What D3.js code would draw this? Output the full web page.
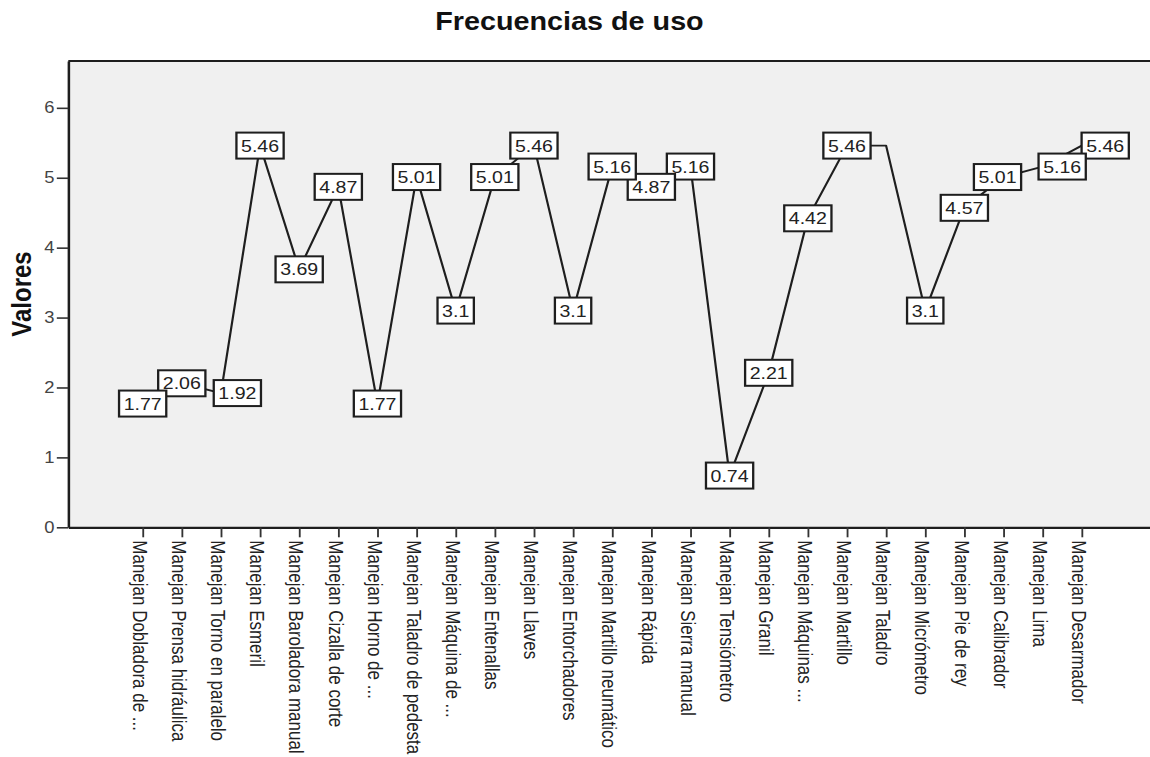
<!DOCTYPE html>
<html lang="es">
<head>
<meta charset="utf-8">
<title>Frecuencias de uso</title>
<script src="https://cdn.jsdelivr.net/npm/d3@7"></script>
<style>
  html, body { margin: 0; padding: 0; background: #ffffff; }
  svg { display: block; font-family: "Liberation Sans", Arial, sans-serif; }
</style>
</head>
<body>
<svg id="chart"></svg>
<script>
// Categories (tools) shown along the x axis
const categories = [
  "Manejan Dobladora de ...",
  "Manejan Prensa hidráulica",
  "Manejan Torno en paralelo",
  "Manejan Esmeril",
  "Manejan Baroladora manual",
  "Manejan Cizalla de corte",
  "Manejan Horno de ...",
  "Manejan Taladro de pedesta",
  "Manejan Máquina de ...",
  "Manejan Entenallas",
  "Manejan Llaves",
  "Manejan Entorchadores",
  "Manejan Martillo neumático",
  "Manejan Rápida",
  "Manejan Sierra manual",
  "Manejan Tensiómetro",
  "Manejan Granil",
  "Manejan Máquinas ...",
  "Manejan Martillo",
  "Manejan Taladro",
  "Manejan Micrómetro",
  "Manejan Pie de rey",
  "Manejan Calibrador",
  "Manejan Lima",
  "Manejan Desarmador"
];

// Usage frequency for each category
const values = [
  1.77, 2.06, 1.92, 5.46, 3.69, 4.87, 1.77, 5.01, 3.1, 5.01,
  5.46, 3.1, 5.16, 4.87, 5.16, 0.74, 2.21, 4.42, 5.46, 5.46,
  3.1, 4.57, 5.01, 5.16, 5.46
];

// Categories whose value label is left off (it would collide with a neighbour)
const unlabeled = ["Manejan Taladro"];

const yTicks = [0, 1, 2, 3, 4, 5, 6];

const titleText = "Frecuencias de uso";
const yTitle = "Valores";

// Sideways nudges for crowded value tags (drawing units)
const tagNudge = {
  "Manejan Torno en paralelo": 14.3,
  "Manejan Calibrador": -5.2,
  "Manejan Lima": 17,
  "Manejan Desarmador": 20.4
};

// Drawing is done in a 1000-unit-wide frame, stretched to the window width
const VW = 1000, VH = 757;
const svg = d3.select("#chart")
  .attr("width", 1150)
  .attr("height", VH)
  .attr("viewBox", `0 0 ${VW} ${VH}`)
  .attr("preserveAspectRatio", "none");

const plot = { left: 59.4, top: 61, bottom: 527.3, right: 1005.3 };

const x = d3.scalePoint()
  .domain(categories)
  .range([plot.left, plot.right])
  .padding(1.9);

const y = d3.scaleLinear()
  .domain([0, 6.67])
  .range([plot.bottom, plot.top]);

const ink = "#1e1e1e";

// Plot background
svg.append("rect")
  .attr("x", plot.left)
  .attr("y", plot.top)
  .attr("width", VW - plot.left)
  .attr("height", plot.bottom - plot.top)
  .attr("fill", "#f0f0f0");

// Top frame line
svg.append("line")
  .attr("x1", plot.left).attr("x2", VW)
  .attr("y1", plot.top).attr("y2", plot.top)
  .attr("stroke", ink).attr("stroke-width", 2);

// Y axis
const yAxis = svg.append("g")
  .attr("transform", `translate(${plot.left},0)`)
  .call(d3.axisLeft(y).tickValues(yTicks).tickFormat(d3.format("d"))
    .tickSize(10).tickSizeOuter(0).tickPadding(2));
yAxis.select(".domain").attr("stroke", ink).attr("stroke-width", 2.2);
yAxis.selectAll(".tick line").attr("stroke", "#333").attr("stroke-width", 1.6);
yAxis.selectAll(".tick text")
  .attr("font-size", 16)
  .attr("fill", "#444")
  .attr("font-family", "'Liberation Sans', Arial, sans-serif");

// X axis with vertical category labels
const xAxis = svg.append("g")
  .attr("transform", `translate(0,${plot.bottom})`)
  .call(d3.axisBottom(x).tickSize(10).tickSizeOuter(0));
xAxis.select(".domain").attr("stroke", ink).attr("stroke-width", 2.2);
xAxis.selectAll(".tick line").attr("stroke", "#333").attr("stroke-width", 1.6);
xAxis.selectAll(".tick text")
  .attr("transform", "rotate(90)")
  .attr("x", 13)
  .attr("y", 9)
  .attr("dy", 0)
  .attr("text-anchor", "start")
  .attr("font-size", 17)
  .attr("fill", "#222")
  .attr("font-family", "'Liberation Sans', Arial, sans-serif");

// Series line
const line = d3.line()
  .x((d, i) => x(categories[i]))
  .y(d => y(d));

svg.append("path")
  .datum(values)
  .attr("d", line)
  .attr("fill", "none")
  .attr("stroke", ink)
  .attr("stroke-width", 1.9)
  .attr("stroke-linejoin", "round");

// Value labels in boxed tags centred on each point
const labelData = values
  .map((v, i) => ({ v, i, cat: categories[i] }))
  .filter(d => !unlabeled.includes(d.cat))
  .reverse(); // left-hand tags end up on top where two overlap

const tags = svg.append("g").selectAll("g")
  .data(labelData)
  .join("g")
  .attr("transform", d => `translate(${x(d.cat) + (tagNudge[d.cat] || 0)},${y(d.v)})`);

tags.append("rect")
  .attr("fill", "#ffffff")
  .attr("stroke", ink)
  .attr("stroke-width", 2);

const texts = tags.append("text")
  .attr("text-anchor", "middle")
  .attr("dy", "0.35em")
  .attr("font-size", 17)
  .attr("fill", "#222")
  .text(d => d3.format("~g")(d.v));

texts.each(function () {
  const w = this.getComputedTextLength() + 8;
  const h = 26;
  d3.select(this.parentNode).select("rect")
    .attr("x", -w / 2).attr("y", -h / 2)
    .attr("width", w).attr("height", h);
});

// Title
svg.append("text")
  .attr("x", 495.2)
  .attr("y", 30)
  .attr("text-anchor", "middle")
  .attr("font-size", 25)
  .attr("font-weight", "bold")
  .attr("fill", "#111")
  .text(titleText);

// Y axis title
svg.append("text")
  .attr("transform", "translate(27,294) rotate(-90)")
  .attr("text-anchor", "middle")
  .attr("font-size", 24)
  .attr("font-weight", "bold")
  .attr("fill", "#111")
  .text(yTitle);
</script>
</body>
</html>
